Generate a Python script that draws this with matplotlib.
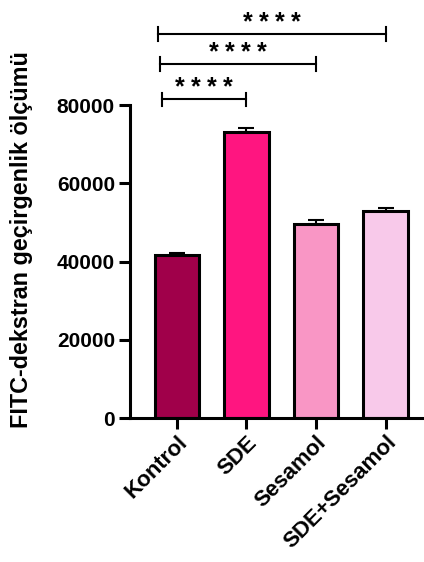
import matplotlib
matplotlib.use("Agg")
import matplotlib.pyplot as plt

plt.rcParams['font.family'] = ['Liberation Sans', 'DejaVu Sans']
plt.rcParams['font.weight'] = 'bold'

# group means and SEM
groups = ["Kontrol", "SDE", "Sesamol", "SDE+Sesamol"]
means = [41800, 73200, 49700, 52900]
sems = [400, 900, 900, 700]
colors = ["#a0004a", "#ff1580", "#f996c5", "#f8c9ea"]

# significance brackets: (left x, right x, height, label)
brackets = [
    (-0.22, 1, 81500, "****"),
    (-0.24, 2, 90500, "****"),
    (-0.27, 3, 98200, "****"),
]

fig = plt.figure(figsize=(4.24, 5.62), dpi=100)
ax = fig.add_axes([0.307, 0.256, 0.693, 0.557])

x = list(range(len(groups)))
ax.bar(x, means, width=0.64, color=colors, edgecolor="black", linewidth=2.2, zorder=2)
ax.errorbar(x, means, yerr=[[0] * len(sems), sems], fmt="none", ecolor="black",
            elinewidth=1.5, capsize=6, capthick=1.5, zorder=1)

ax.set_xlim(-0.67, 3.55)
ax.set_ylim(0, 80000)
ax.set_yticks([0, 20000, 40000, 60000, 80000])
ax.set_xticks(x)
ax.set_xticklabels(groups, rotation=45, ha="right", rotation_mode="anchor",
                   fontsize=16, fontweight="bold")
for lab in ax.get_yticklabels():
    lab.set_fontsize(15)
    lab.set_fontweight("bold")

for side in ["top", "right"]:
    ax.spines[side].set_visible(False)
for side in ["left", "bottom"]:
    ax.spines[side].set_linewidth(2.2)
ax.tick_params(axis="both", width=2.2, length=8, pad=3)
ax.tick_params(axis="x", pad=2)

ax.set_ylabel("FITC-dekstran geçirgenlik ölçümü", fontsize=16.8, fontweight="bold")
ax.yaxis.set_label_coords(-0.33, 0.569)

for x0, x1, h, label in brackets:
    ax.plot([x0, x1], [h, h], color="black", lw=1.5, clip_on=False)
    ax.plot([x0, x0], [h - 1700, h + 1700], color="black", lw=1.5, clip_on=False)
    ax.plot([x1, x1], [h - 1700, h + 1700], color="black", lw=1.5, clip_on=False)
    # asterisks spread out one by one
    n = len(label)
    step = 11.5
    for i, ch in enumerate(label):
        ax.annotate(ch, xy=((x0 + x1) / 2, h), xytext=((i - (n - 1) / 2) * step, 0),
                    textcoords="offset points", ha="center", va="bottom",
                    fontsize=18, fontweight="bold", annotation_clip=False)

fig.savefig("out.png", dpi=100)
